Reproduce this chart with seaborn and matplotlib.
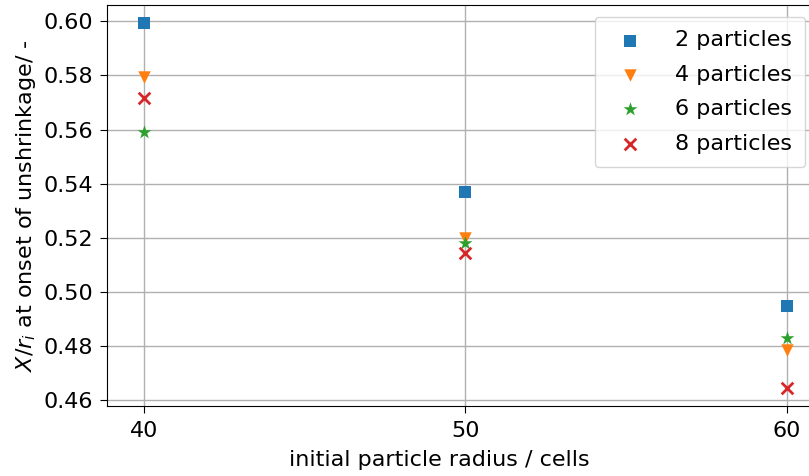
import numpy as np
import pandas as pd
import matplotlib
matplotlib.use('Agg')
import matplotlib.pyplot as plt
import seaborn as sns

# data
radius = [40, 50, 60]
x_2 = [0.5993, 0.5369, 0.4947]
x_4 = [0.5795, 0.5198, 0.4785]
x_6 = [0.5590, 0.5180, 0.4829]
x_8 = [0.5715, 0.5143, 0.4645]
labels = ['2 particles', '4 particles', '6 particles', '8 particles']

df = pd.DataFrame({
    'radius': radius * 4,
    'ratio': x_2 + x_4 + x_6 + x_8,
    'series': [l for l in labels for _ in radius],
})

plt.rcParams['font.family'] = ['DejaVu Sans']
plt.rcParams['font.size'] = 16
plt.rcParams['xtick.major.size'] = 5
plt.rcParams['ytick.major.size'] = 5
plt.rcParams['xtick.major.pad'] = 6
plt.rcParams['ytick.major.pad'] = 5

fig = plt.figure(figsize=(8.09, 4.76), dpi=100)
# the right edge of the axes runs just past the figure (cropped in the reference)
ax = fig.add_axes([107 / 809, 70 / 476, 705 / 809, 401 / 476])

colors = sns.color_palette('tab10', 4)
markers = ['s', 'v', '*', 'x']
sizes = [80, 80, 110, 70]
# line-art 'x' can't be mixed with filled markers in one call, so one call per series
for lab, c, m, sz in zip(labels, colors, markers, sizes):
    sub = df[df['series'] == lab]
    if m == 'x':
        sns.scatterplot(data=sub, x='radius', y='ratio', color=c, marker=m, s=sz,
                        linewidth=2, label=lab, ax=ax)
    else:
        sns.scatterplot(data=sub, x='radius', y='ratio', color=c, marker=m, s=sz,
                        linewidth=0, label=lab, ax=ax)

ax.set_xlim(38.85, 60.78)
ax.set_xticks(radius)
ax.set_yticks(np.arange(0.46, 0.601, 0.02))
ax.grid(True, color='#b0b0b0', linewidth=1)
ax.set_axisbelow(True)
ax.set_xlabel('initial particle radius / cells', labelpad=6)
ax.xaxis.label.set_x(0.472)
ax.set_ylabel(r'$X/r_i$ at onset of unshrinkage/ -')
ax.legend(loc='upper right', bbox_to_anchor=(805 / 809, 1 - 17 / 476),
          bbox_transform=fig.transFigure, borderaxespad=0, borderpad=0.6,
          handletextpad=1.0, labelspacing=0.65)

fig.savefig('out.png', dpi=100)
